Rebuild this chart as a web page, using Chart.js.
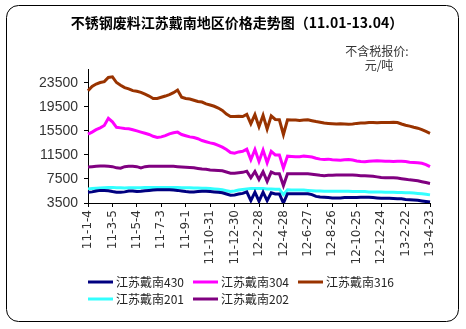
<!DOCTYPE html>
<html>
<head>
<meta charset="utf-8">
<script src="https://cdn.jsdelivr.net/npm/chart.js@4"></script>
<style>
  html, body { margin: 0; padding: 0; background: #fff; }
  canvas { display: block; }
</style>
</head>
<body>
<canvas id="priceChart" width="466" height="329"></canvas>
<script>
// tick labels shown on the x axis (one every 6 samples)
const tickLabels = ['11-1-4', '11-3-5', '11-5-4', '11-7-3', '11-9-1', '11-10-31', '11-12-30',
    '12-2-28', '12-4-28', '12-6-27', '12-8-26', '12-10-25', '12-12-24', '13-2-22', '13-4-23'];
const yTicks = [3500, 7500, 11500, 15500, 19500, 23500];

const seriesNames = ['江苏戴南430', '江苏戴南304', '江苏戴南316', '江苏戴南201', '江苏戴南202'];
const seriesColors = ['#000080', '#ff00ff', '#993300', '#33ffff', '#800080'];

const dn430 = [
    5300, 5350, 5500, 5600, 5600, 5550,
    5400, 5300, 5300, 5350, 5500, 5500,
    5400, 5450, 5550, 5600, 5650, 5700,
    5700, 5700, 5700, 5650, 5600, 5500,
    5400, 5350, 5350, 5400, 5450, 5450,
    5400, 5350, 5300, 5200, 5000, 4800,
    4850, 5000, 5100, 5350, 3900, 5300,
    3800, 5300, 3900, 5200, 5000, 5000,
    3500, 5050, 5050, 5050, 5050, 5050,
    5050, 4900, 4600, 4500, 4450, 4400,
    4350, 4350, 4350, 4400, 4400, 4400,
    4400, 4450, 4450, 4450, 4400, 4350,
    4300, 4300, 4300, 4250, 4200, 4200,
    4100, 4050, 4000, 3950, 3850, 3750,
    3650];
const dn304 = [
    14950, 15300, 15700, 16000, 16400, 17600,
    17000, 16100, 16000, 15900, 15850, 15700,
    15500, 15300, 15100, 14900, 14600, 14400,
    14500, 14700, 15000, 15200, 15300, 14900,
    14700, 14500, 14400, 14200, 13900, 13700,
    13500, 13350, 13100, 12800, 12400, 11900,
    11800, 12000, 12100, 12450, 10700, 12400,
    10400, 12300, 10200, 12100, 11500, 11500,
    9300, 11300, 11250, 11200, 11200, 11300,
    11250, 11150, 10950, 10800, 10750, 10800,
    10700, 10650, 10600, 10700, 10750, 10650,
    10500, 10400, 10350, 10450, 10500, 10550,
    10500, 10450, 10450, 10400, 10450, 10450,
    10400, 10300, 10250, 10200, 10100, 9900,
    9550];
const dn316 = [
    22170, 22900, 23300, 23550, 23700, 24400,
    24500, 23550, 23100, 22700, 22500, 22200,
    22100, 21900, 21600, 21300, 20900, 20900,
    21100, 21300, 21550, 21850, 22300, 21100,
    20900, 20800, 20600, 20400, 20300, 20000,
    19800, 19600, 19300, 18900, 18300, 17900,
    17900, 17950, 17900, 18250, 16700, 18200,
    16200, 18100, 15800, 18000, 17400, 17350,
    14900, 17350, 17300, 17300, 17250, 17300,
    17350, 17200, 17050, 16950, 16800, 16750,
    16700, 16650, 16700, 16650, 16600, 16650,
    16750, 16800, 16800, 16900, 16900, 16850,
    16900, 16900, 16900, 16950, 16900, 16650,
    16450, 16300, 16100, 15950, 15700, 15400,
    15100];
const dn201 = [
    5850, 5900, 5950, 6000, 6050, 6100,
    6100, 6050, 6050, 6000, 6050, 6050,
    6050, 6050, 6100, 6100, 6100, 6100,
    6100, 6100, 6100, 6100, 6100, 6050,
    6050, 6050, 6000, 6000, 5950, 5950,
    5900, 5850, 5800, 5700, 5550, 5400,
    5500, 5650, 5750, 5850, 5900, 5900,
    5900, 5900, 5850, 5850, 5800, 5800,
    4900, 5700, 5650, 5650, 5650, 5650,
    5600, 5550, 5500, 5500, 5450, 5450,
    5450, 5450, 5450, 5450, 5450, 5400,
    5400, 5400, 5400, 5350, 5350, 5350,
    5350, 5300, 5300, 5300, 5250, 5250,
    5200, 5200, 5150, 5100, 5050, 4950,
    4850];
const dn202 = [
    9500, 9550, 9600, 9650, 9650, 9600,
    9550, 9350, 9300, 9550, 9600, 9600,
    9550, 9350, 9550, 9600, 9600, 9600,
    9600, 9600, 9600, 9600, 9550, 9500,
    9450, 9400, 9350, 9250, 9150, 9100,
    9000, 8950, 8900, 8850, 8650, 8450,
    8450, 8550, 8600, 8800, 7700, 8750,
    7400, 8700, 7100, 8650, 8350, 8350,
    6400, 8350, 8350, 8350, 8350, 8350,
    8350, 8300, 8200, 8100, 8050, 8100,
    8100, 8150, 8150, 8150, 8150, 8150,
    8100, 8050, 8050, 8000, 7950, 7850,
    7750, 7700, 7700, 7700, 7650, 7550,
    7450, 7350, 7300, 7200, 7050, 6900,
    6750];

const step = 6;
const labels = dn316.map((_, i) => i % step === 0 ? tickLabels[i / step] : '');
const allSeries = [dn430, dn304, dn316, dn201, dn202];

const cjk = '"Noto Sans CJK SC", "DejaVu Sans", sans-serif';

// frame, title, unit note and legend drawn on the canvas
const decor = {
    id: 'decor',
    beforeDraw(chart) {
        const c = chart.ctx;
        c.save();
        c.fillStyle = '#fff';
        c.fillRect(0, 0, chart.width, chart.height);
        c.beginPath();
        c.roundRect(6.5, 5.5, 452, 316, 12);
        c.strokeStyle = '#000';
        c.lineWidth = 1;
        c.stroke();
        c.restore();
    },
    afterDraw(chart) {
        const c = chart.ctx;
        c.save();
        c.fillStyle = '#000';
        c.textAlign = 'center';
        c.textBaseline = 'middle';
        c.font = 'bold 14px ' + cjk;
        c.fillText('不锈钢废料江苏戴南地区价格走势图（11.01-13.04）', 237, 23);
        c.fillStyle = '#333';
        c.font = '12px ' + cjk;
        c.fillText('不含税报价:', 377, 51);
        c.fillText('元/吨', 379, 65);

        const pos = [[88, 282], [193, 282], [298, 282], [88, 299], [193, 299]];
        c.textAlign = 'left';
        chart.data.datasets.forEach((ds, i) => {
            const [x, y] = pos[i];
            c.beginPath();
            c.moveTo(x, y);
            c.lineTo(x + 25, y);
            c.strokeStyle = ds.borderColor;
            c.lineWidth = 3;
            c.stroke();
            c.fillStyle = '#222';
            c.fillText(ds.label, x + 28, y);
        });
        c.restore();
    }
};

new Chart(document.getElementById('priceChart'), {
    type: 'line',
    data: {
        labels: labels,
        datasets: allSeries.map((d, i) => ({
            label: seriesNames[i],
            data: d,
            borderColor: seriesColors[i],
            backgroundColor: seriesColors[i],
            borderWidth: 3,
            pointRadius: 0,
            tension: 0,
            fill: false
        }))
    },
    options: {
        responsive: false,
        animation: false,
        devicePixelRatio: 1,
        layout: { padding: { left: 0, right: 36, top: 69, bottom: 0 } },
        plugins: {
            legend: { display: false },
            title: { display: false },
            tooltip: { enabled: false }
        },
        scales: {
            x: {
                type: 'category',
                offset: false,
                grid: { drawOnChartArea: false, tickLength: 4, color: '#000' },
                border: { color: '#000', width: 1 },
                ticks: {
                    autoSkip: false,
                    maxRotation: 90,
                    minRotation: 90,
                    padding: 3,
                    color: '#333',
                    font: { family: 'DejaVu Sans', size: 12 }
                },
                afterBuildTicks: s => { s.ticks = s.ticks.filter(t => t.value % step === 0); },
                afterFit: s => { s.height = 126; }
            },
            y: {
                min: 3500,
                max: 25800,
                grid: { drawOnChartArea: false, tickLength: 4, color: '#000' },
                border: { color: '#000', width: 1 },
                ticks: {
                    padding: 6,
                    color: '#333',
                    font: { family: 'Liberation Sans', size: 14 },
                    callback: v => String(v)
                },
                afterBuildTicks: s => { s.ticks = yTicks.map(v => ({ value: v })); },
                afterFit: s => { s.width = 88; }
            }
        }
    },
    plugins: [decor]
});
</script>
</body>
</html>
